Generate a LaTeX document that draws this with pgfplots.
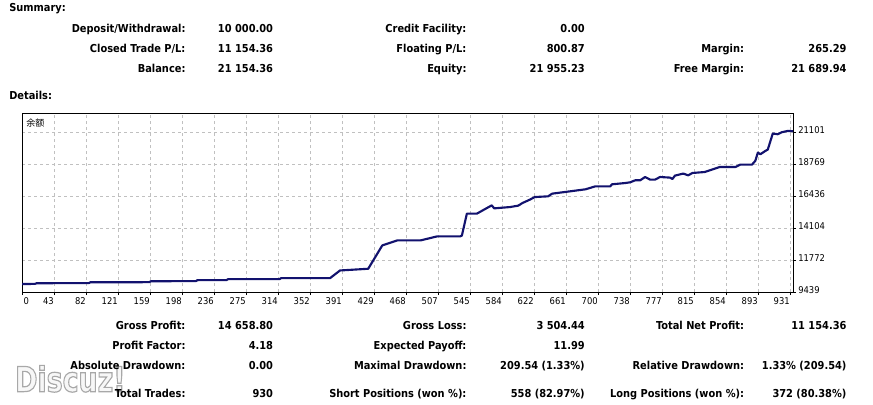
\documentclass[border=0pt]{standalone}
\usepackage{pgfplots}
\pgfplotsset{compat=1.18}
\usepackage{fontspec}
\setmainfont{DejaVu Sans Condensed}
\newfontfamily\cjk{Noto Sans CJK SC}
\definecolor{navyline}{RGB}{18,18,110}
\definecolor{gridgray}{RGB}{192,192,192}

\begin{document}
\begin{tikzpicture}[x=0.75pt,y=0.75pt]
\path (0,0) rectangle (873,404);
\tikzset{
  lab/.style={anchor=base east,inner sep=0pt,font=\fontsize{8.2}{10}\selectfont\bfseries},
  head/.style={anchor=base west,inner sep=0pt,font=\fontsize{8.2}{10}\selectfont\bfseries}
}
% summary block
\node[head] at (9,404-11.7) {Summary:};
\node[lab] at (185.7,404-32.3) {Deposit/Withdrawal:};
\node[lab] at (273.3,404-32.3) {10 000.00};
\node[lab] at (466.7,404-32.3) {Credit Facility:};
\node[lab] at (585,404-32.3) {0.00};
\node[lab] at (185.7,404-52.3) {Closed Trade P/L:};
\node[lab] at (273.3,404-52.3) {11 154.36};
\node[lab] at (466.7,404-52.3) {Floating P/L:};
\node[lab] at (585,404-52.3) {800.87};
\node[lab] at (744.3,404-52.3) {Margin:};
\node[lab] at (846.7,404-52.3) {265.29};
\node[lab] at (185.7,404-72.3) {Balance:};
\node[lab] at (273.3,404-72.3) {21 154.36};
\node[lab] at (466.7,404-72.3) {Equity:};
\node[lab] at (585,404-72.3) {21 955.23};
\node[lab] at (744.3,404-72.3) {Free Margin:};
\node[lab] at (846.7,404-72.3) {21 689.94};
\node[head] at (9,404-100) {Details:};

% watermark: outlined letters (fill + stroke render mode, restored by the node's scope)
\node[anchor=base west,inner sep=0pt,xscale=0.86,font=\fontsize{26}{28}\selectfont\bfseries] at (15,404-391.7)
  {\textcolor{white!94!gray}{\special{pdf:code 2 Tr 0.9 w 0.66 0.66 0.66 RG}Discuz!\special{pdf:code 0 Tr}}};

\begin{axis}[
  at={(16.5pt,84pt)}, anchor=south west,
  scale only axis, width=578.25pt, height=134.25pt,
  xmin=4.4, xmax=934.4, ymin=9439, ymax=22480,
  xtick={43,81.6,120.2,158.8,197.4,236,274.6,313.2,351.8,390.4,429,467.6,506.2,544.8,583.4,622,660.6,699.2,737.8,776.4,815,853.6,892.2,930.8},
  xticklabels={43,82,121,159,198,236,275,314,352,391,429,468,507,545,584,622,661,700,738,777,815,854,893,931},
  extra x ticks={4.4}, extra x tick labels={0},
  extra x tick style={grid=none, xticklabel style={anchor=north west, xshift=1pt}},
  ytick={9439,11771.4,14103.8,16436.2,18768.6,21101},
  yticklabels={9439,11772,14104,16436,18769,21101},
  scaled y ticks=false, scaled x ticks=false,
  xtick pos=bottom, ytick pos=right, yticklabel pos=right,
  tick align=outside, major tick length=2.25pt,
  tick style={black, line width=0.6pt},
  axis line style={black, line width=0.75pt},
  grid=major,
  major grid style={gridgray, line width=0.6pt, dash pattern=on 2.25pt off 2.25pt},
  xticklabel style={font=\fontsize{7}{8}\selectfont, anchor=north east, inner sep=0pt, yshift=-1.5pt},
  yticklabel style={font=\fontsize{7}{8}\selectfont, anchor=west, inner sep=0pt, xshift=1.5pt, yshift=1.5pt},
]
\addplot[navyline, line width=1.6pt, line join=round] coordinates {
(4.4,10020) (20,10030) (22,10080) (85,10085) (87,10150) (158,10155) (160,10225)
(214,10230) (216,10300) (251,10305) (253,10373) (315,10378) (317,10446)
(376,10450) (388,11008) (422,11132) (439,12833) (457,13197) (485,13197)
(505,13489) (533,13489) (535,13550) (541,15146) (553,15146) (571,15752)
(574,15533) (593,15628) (603,15730) (608,15920) (617,16168) (623,16358)
(639,16409) (644,16606) (659,16722) (684,16920) (696,17138) (714,17138)
(716,17284) (732,17379) (738,17430) (744,17576) (750,17576) (756,17817)
(762,17627) (768,17627) (774,17817) (786,17773) (789,17671) (792,17919)
(802,18065) (808,17941) (813,18109) (828,18182) (846,18547) (865,18547)
(871,18722) (885,18722) (889,19000) (892,19598) (895,19474) (901,19715)
(904,19817) (910,20984) (916,20933) (921,21079) (928,21174) (934.4,21154)
};
\end{axis}
\node[anchor=west,inner sep=0pt,font=\cjk\fontsize{6.8}{8}\selectfont] at (26,404-122.7) {余额};

% details block
\node[lab] at (185.7,404-329) {Gross Profit:};
\node[lab] at (273.3,404-329) {14 658.80};
\node[lab] at (466.7,404-329) {Gross Loss:};
\node[lab] at (585,404-329) {3 504.44};
\node[lab] at (744.3,404-329) {Total Net Profit:};
\node[lab] at (846.7,404-329) {11 154.36};
\node[lab] at (185.7,404-349) {Profit Factor:};
\node[lab] at (273.3,404-349) {4.18};
\node[lab] at (466.7,404-349) {Expected Payoff:};
\node[lab] at (585,404-349) {11.99};
\node[lab] at (185.7,404-369) {Absolute Drawdown:};
\node[lab] at (273.3,404-369) {0.00};
\node[lab] at (466.7,404-369) {Maximal Drawdown:};
\node[lab] at (585,404-369) {209.54 (1.33\%)};
\node[lab] at (744.3,404-369) {Relative Drawdown:};
\node[lab] at (846.7,404-369) {1.33\% (209.54)};
\node[lab] at (185.7,404-397.3) {Total Trades:};
\node[lab] at (273.3,404-397.3) {930};
\node[lab] at (466.7,404-397.3) {Short Positions (won \%):};
\node[lab] at (585,404-397.3) {558 (82.97\%)};
\node[lab] at (744.3,404-397.3) {Long Positions (won \%):};
\node[lab] at (846.7,404-397.3) {372 (80.38\%)};
\end{tikzpicture}
\end{document}
